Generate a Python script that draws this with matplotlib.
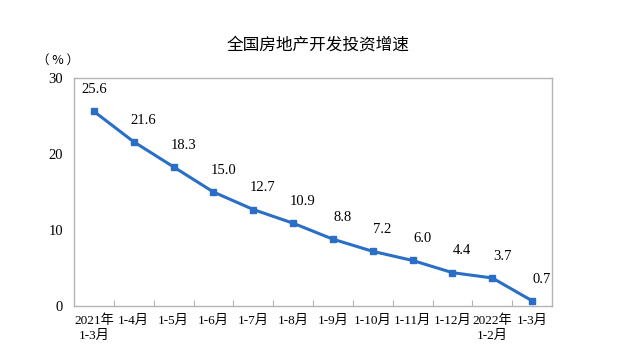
import matplotlib
matplotlib.use('Agg')
import matplotlib.pyplot as plt

plt.rcParams['font.family'] = ['Liberation Serif', 'Noto Sans CJK SC']

periods = ['2021年\n1-3月', '1-4月', '1-5月', '1-6月', '1-7月', '1-8月', '1-9月',
           '1-10月', '1-11月', '1-12月', '2022年\n1-2月', '1-3月']
growth = [25.6, 21.6, 18.3, 15.0, 12.7, 10.9, 8.8, 7.2, 6.0, 4.4, 3.7, 0.7]

line_colour = '#2a6ec6'
spine_colour = '#b4b4b4'

fig = plt.figure(figsize=(6.4, 3.64), dpi=100)
ax = fig.add_axes([0.1156, 0.159, 0.747, 0.627])

x = list(range(len(growth)))
ax.plot(x, growth, color=line_colour, linewidth=2.2, marker='s', markersize=4.5)

for i, v in enumerate(growth):
    dx = 0 if i == 0 else 7
    ax.annotate(f'{v:.1f}', (i, v), xytext=(dx, 11), textcoords='offset points',
                ha='center', va='bottom', fontsize=10.5)

ax.set_xlim(-0.5, len(growth) - 0.5)
ax.set_ylim(0, 30)
ax.set_yticks([0, 10, 20, 30])
ax.tick_params(axis='y', length=0, labelsize=10.5, pad=8)

ax.set_xticks([i + 0.5 for i in x[:-1]])
ax.set_xticklabels([])
ax.tick_params(axis='x', which='major', direction='in', length=4, color=spine_colour)
ax.set_xticks(x, minor=True)
ax.set_xticklabels(periods, minor=True, fontsize=9.5, linespacing=1.3)
ax.tick_params(axis='x', which='minor', length=0, pad=6)

for s in ax.spines.values():
    s.set_color(spine_colour)
    s.set_linewidth(1.0)

fig.text(0.497, 0.876, '全国房地产开发投资增速', ha='center', va='center', fontsize=12)
fig.text(0.09, 0.835, '（ % ）', ha='center', va='center', fontsize=9,
         family=['Noto Sans CJK SC'])

fig.savefig('out.png', dpi=100)
